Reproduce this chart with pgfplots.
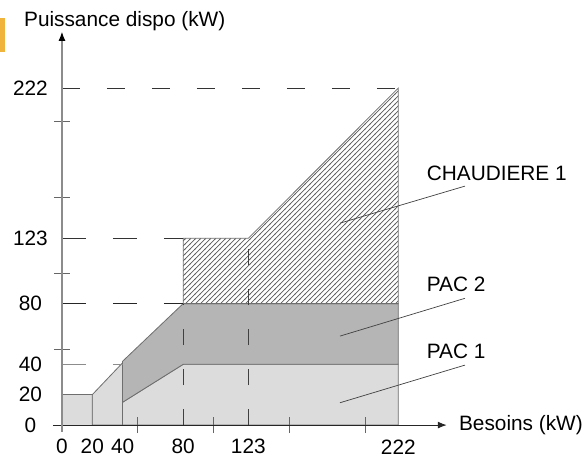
\documentclass[border=0pt]{standalone}
\usepackage{fontspec}
\setmainfont{Liberation Sans}
\usepackage{pgfplots}
\pgfplotsset{compat=1.18}
\usetikzlibrary{patterns,arrows.meta}
\definecolor{pacone}{HTML}{DCDCDC}
\definecolor{pactwo}{HTML}{B5B5B5}
\definecolor{edgec}{HTML}{6E6E6E}
\definecolor{hatchc}{HTML}{5A5A5A}
\definecolor{barorange}{HTML}{F0B43C}
\pgfdeclarepatternformonly{myhatch}{\pgfqpoint{-1bp}{-1bp}}{\pgfqpoint{6bp}{6bp}}{\pgfqpoint{5bp}{5bp}}{%
  \pgfsetlinewidth{0.75bp}%
  \pgfpathmoveto{\pgfqpoint{-0.5bp}{-0.5bp}}%
  \pgfpathlineto{\pgfqpoint{5.5bp}{5.5bp}}%
  \pgfusepath{stroke}}
\newcommand{\lblfont}{\fontsize{20.8bp}{24bp}\selectfont}
\begin{document}
\begin{tikzpicture}[font=\lblfont]
\begin{axis}[
  x=1.515bp, y=1.518bp,
  xmin=-6, xmax=254, ymin=-4.5, ymax=259,
  axis lines=middle,
  axis on top,
  clip=false,
  x axis line style={draw=black!85, line width=1.1bp, -{Latex[length=9bp,width=7bp]}},
  y axis line style={draw=black!45, line width=1.1bp, -{Latex[length=9bp,width=7bp,color=black]}},
  xtick={0,20,40,80,123,222}, xticklabels={0,20,40,80,123,222},
  ytick={0,20,40,80,123,222}, yticklabels={0,20,40,80,123,222},
  minor xtick={50,100,150,200}, minor ytick={50,100,150,200},
  major tick length=0pt, minor tick length=16bp, tick align=center,
  minor tick style={draw=black!60, line width=0.9bp},
  hide obscured x ticks=false, hide obscured y ticks=false,
  /pgf/number format/assume math mode=true,
  tick label style={font=\lblfont},
  xticklabel style={anchor=center, yshift=-21.7bp},
  yticklabel style={anchor=center, xshift=-31.5bp},
]
% PAC 1
\addplot[fill=pacone, draw=edgec, line width=0.8bp] coordinates {(0,0) (0,20) (20,20) (20,0)} -- cycle;
\addplot[fill=pacone, draw=edgec, line width=0.8bp] coordinates {(20,0) (20,20) (40,41) (40,0)} -- cycle;
\addplot[fill=pacone, draw=edgec, line width=0.8bp] coordinates {(40,0) (40,15) (80,40) (222,40) (222,0)} -- cycle;
% PAC 2
\addplot[fill=pactwo, draw=edgec, line width=0.8bp] coordinates {(40,15) (40,42) (80,80) (222,80) (222,40) (80,40)} -- cycle;
% CHAUDIERE 1
\addplot[pattern=myhatch, pattern color=hatchc, draw=edgec, line width=0.8bp] coordinates {(80,80) (80,123) (123,123) (222,222) (222,80)} -- cycle;
% dashed guides
\addplot[black!80, line width=0.9bp, dash pattern=on 18bp off 27bp] coordinates {(0,222) (222,222)};
\addplot[black!80, line width=0.9bp, dash pattern=on 24bp off 27bp] coordinates {(0,123) (80,123)};
\addplot[black!85, line width=0.9bp, dash pattern=on 24bp off 27bp] coordinates {(0,80) (80,80)};
\addplot[black!45, line width=0.9bp, dash pattern=on 24bp off 27bp] coordinates {(0,40) (40,40)};
\addplot[black!75, line width=0.9bp, dash pattern=on 16bp off 24bp] coordinates {(80,0) (80,80)};
\addplot[black!75, line width=0.9bp, dash pattern=on 16bp off 24bp] coordinates {(123,0) (123,123)};
% leader lines
\addplot[black!75, line width=0.7bp] coordinates {(183.5,133) (266,157.4)};
\addplot[black!75, line width=0.7bp] coordinates {(183.5,58.6) (266,83.5)};
\addplot[black!75, line width=0.7bp] coordinates {(183.5,14.7) (266,39.5)};
% labels
\node[anchor=base west, inner sep=0pt] at (axis cs:240.7,161.4) {CHAUDIERE 1};
\node[anchor=base west, inner sep=0pt] at (axis cs:240.7,87.8) {PAC 2};
\node[anchor=base west, inner sep=0pt] at (axis cs:240.7,43.9) {PAC 1};
\node[anchor=base west, inner sep=0pt] at (axis cs:262,-3.3) {Besoins (kW)};
\node[anchor=base west, inner sep=0pt] at (axis cs:-25.1,262.4) {Puissance dispo (kW)};
\fill[barorange] (axis cs:-40.9,268.1) rectangle (axis cs:-37.6,245.7);
\coordinate (bl) at (axis cs:-40.9,-22.4);
\coordinate (tr) at (axis cs:347.2,280);
\end{axis}
\pgfresetboundingbox
\path[use as bounding box] (bl) rectangle (tr);
\end{tikzpicture}
\end{document}
